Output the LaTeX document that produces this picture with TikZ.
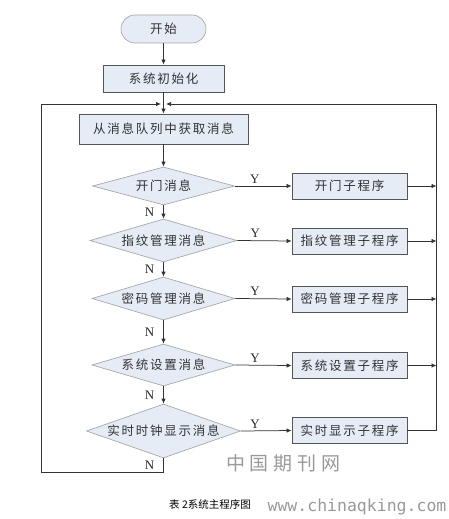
\documentclass[tikz,border=0pt]{standalone}
\usepackage{fontspec}
\setmainfont{Liberation Serif}
\newfontfamily\cjk[LetterSpace=14]{Noto Sans CJK SC}
\newfontfamily\cjkplain{Noto Sans CJK SC}
\newfontfamily\cjkwm[LetterSpace=25]{Noto Sans CJK SC}
\newfontfamily\wmmono{DejaVu Sans Mono}
\usetikzlibrary{shapes.geometric,arrows.meta}
\definecolor{fillc}{HTML}{E6ECF6}
\definecolor{boxd}{HTML}{555555}
\definecolor{diad}{HTML}{A8A8A8}
\definecolor{linec}{HTML}{333333}
\begin{document}
\begin{tikzpicture}[x=1pt,y=-1pt,
  txt/.style={font=\cjk\fontsize{12.5}{14}\selectfont, text=black!80},
  term/.style={txt, draw=diad, fill=fillc, line width=0.7pt, rounded corners=14pt, inner sep=0pt},
  proc/.style={txt, draw=boxd, fill=fillc, line width=0.8pt, inner sep=0pt},
  dec/.style={diamond, draw=diad, fill=fillc, line width=0.7pt, inner sep=0pt},
  conn/.style={draw=linec, line width=0.75pt},
  arr/.style={conn, -{Latex[length=5pt,width=4.5pt]}},
  yn/.style={font=\fontsize{13}{14}\selectfont, text=black!85, inner sep=0pt},
  wm/.style={text=black!40, inner sep=0pt}]
\useasboundingbox (0,0) rectangle (448,519);
% nodes
\node[term, minimum width=85pt, minimum height=28pt] (start) at (163.5,29) {开始};
\node[proc, minimum width=121pt, minimum height=27pt] (init) at (163.5,78.5) {系统初始化};
\node[proc, minimum width=169pt, minimum height=30pt] (get) at (163.5,129) {从消息队列中获取消息};
\node[dec, minimum width=142pt, minimum height=38pt, label={[txt]center:开门消息}] (d1) at (163.5,186) {};
\node[dec, minimum width=147pt, minimum height=43pt, label={[txt]center:指纹管理消息}] (d2) at (163.5,240.5) {};
\node[dec, minimum width=143pt, minimum height=43pt, label={[txt]center:密码管理消息}] (d3) at (163.5,298.5) {};
\node[dec, minimum width=143pt, minimum height=42pt, label={[txt]center:系统设置消息}] (d4) at (163.5,365) {};
\node[dec, minimum width=154pt, minimum height=54pt, label={[txt]center:实时时钟显示消息}] (d5) at (163.5,431) {};
\node[proc, minimum width=115pt, minimum height=26pt] (b1) at (349.5,186) {开门子程序};
\node[proc, minimum width=115pt, minimum height=26pt] (b2) at (349.5,241) {指纹管理子程序};
\node[proc, minimum width=115pt, minimum height=26pt] (b3) at (349.5,299) {密码管理子程序};
\node[proc, minimum width=115pt, minimum height=26pt] (b4) at (349.5,365.5) {系统设置子程序};
\node[proc, minimum width=115pt, minimum height=26pt] (b5) at (349.5,430.5) {实时显示子程序};
% helper coordinates
\coordinate (top) at (163.5,104);
\coordinate (tl) at (41,104);
\coordinate (tr) at (436.5,104);
\coordinate (bl) at (41,472.5);
\coordinate (bm) at (163.5,472.5);
% connectors
\draw[arr] (start) -- (init);
\draw[conn] (init) -- (top);
\draw[arr] (top) -- (get);
\draw[arr] (get) -- (d1);
\draw[arr] (d1) -- node[yn, midway, xshift=-14pt]{N} (d2);
\draw[arr] (d2) -- node[yn, midway, xshift=-14pt]{N} (d3);
\draw[arr] (d3) -- node[yn, midway, xshift=-14pt]{N} (d4);
\draw[arr] (d4) -- node[yn, midway, xshift=-14pt]{N} (d5);
\draw[arr] (d1.east) -- node[yn, pos=.35, yshift=7pt]{Y} (b1.west);
\draw[arr] (d2.east) -- node[yn, pos=.33, yshift=7pt]{Y} (b2.west);
\draw[arr] (d3.east) -- node[yn, pos=.35, yshift=7pt]{Y} (b3.west);
\draw[arr] (d4.east) -- node[yn, pos=.35, yshift=7pt]{Y} (b4.west);
\draw[arr] (d5.east) -- node[yn, pos=.28, yshift=7pt]{Y} (b5.west);
\draw[arr] (b1.east) -- (b1 -| tr);
\draw[arr] (b2.east) -- (b2 -| tr);
\draw[arr] (b3.east) -- (b3 -| tr);
\draw[arr] (b4.east) -- (b4 -| tr);
\draw[arr, shorten >=2.5pt] (b5.east) -- (b5 -| tr) -- (tr) -- (top);
\draw[arr, shorten >=2.5pt] (d5.south) -- node[yn, midway, xshift=-14pt]{N} (bm) -- (bl) -- (tl) -- (top);
% caption and watermarks
\node[inner sep=0pt, font=\cjkplain\fontsize{10.5}{12}\selectfont] (cap) at (210,504.5) {表 2系统主程序图};
\node[wm, font=\cjkwm\fontsize{19}{21}\selectfont] (wm1) at (283,463) {中国期刊网};
\node[wm, font=\wmmono\fontsize{16.5}{18}\selectfont] (wm2) at (357,507) {www.chinaqking.com};
\end{tikzpicture}
\end{document}
